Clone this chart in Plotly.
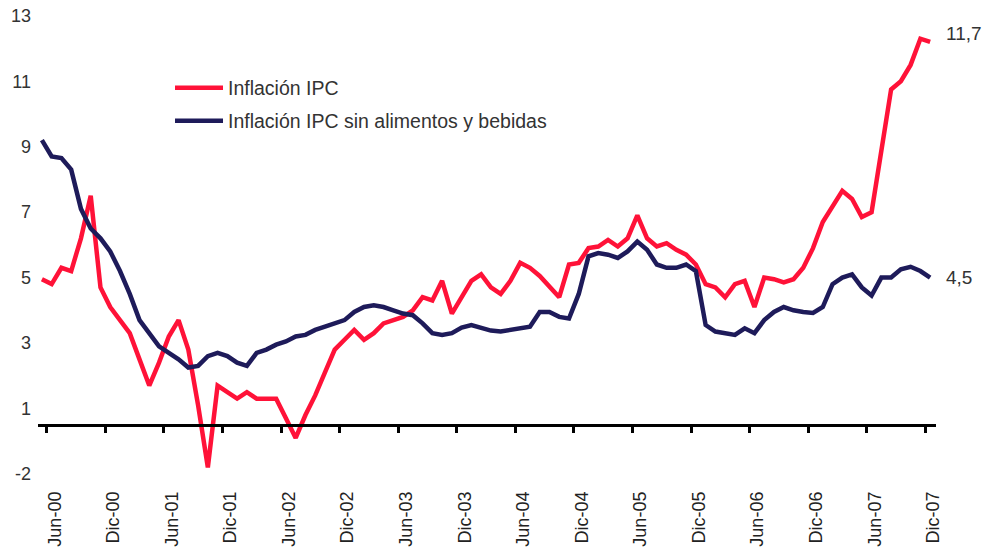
import plotly.graph_objects as go

# Monthly periods, May-00 .. Dic-07
MESES = ["Ene", "Feb", "Mar", "Abr", "May", "Jun", "Jul", "Ago", "Sep", "Oct", "Nov", "Dic"]
periodos = [f"{MESES[m]}-{str(a)[2:]}" for a in range(2000, 2008) for m in range(12)][4:]

# Headline CPI inflation (%)
inflacion_ipc = [
    4.45, 4.3, 4.8, 4.7, 5.7, 7.0, 4.2, 3.6, 3.2, 2.8,
    2.0, 1.2, 1.9, 2.7, 3.2, 2.3, 0.6, -1.3, 1.2, 1.0,
    0.8, 1.0, 0.8, 0.8, 0.8, 0.2, -0.4, 0.3, 0.9, 1.6,
    2.3, 2.6, 2.9, 2.6, 2.8, 3.1, 3.2, 3.3, 3.5, 3.9,
    3.8, 4.4, 3.4, 3.9, 4.4, 4.6, 4.2, 4.0, 4.4, 4.95,
    4.8, 4.55, 4.2, 3.9, 4.9, 4.95, 5.4, 5.45, 5.65, 5.45,
    5.7, 6.4, 5.7, 5.45, 5.55, 5.35, 5.2, 4.9, 4.3, 4.2,
    3.9, 4.3, 4.4, 3.6, 4.5, 4.45, 4.35, 4.45, 4.8, 5.4,
    6.2, 6.7, 7.15, 6.9, 6.35, 6.5, 8.3, 10.25, 10.5, 11.0,
    11.8, 11.7,
]

# CPI inflation excluding food and beverages (%)
inflacion_sin_alimentos = [
    8.7, 8.2, 8.15, 7.8, 6.6, 6.0, 5.7, 5.3, 4.7, 4.0,
    3.2, 2.8, 2.4, 2.2, 2.0, 1.75, 1.8, 2.1, 2.2, 2.1,
    1.9, 1.8, 2.2, 2.3, 2.45, 2.55, 2.7, 2.75, 2.9, 3.0,
    3.1, 3.2, 3.45, 3.6, 3.65, 3.6, 3.5, 3.4, 3.35, 3.1,
    2.8, 2.75, 2.8, 2.97, 3.05, 2.95, 2.88, 2.85, 2.9, 2.95,
    3.0, 3.45, 3.45, 3.3, 3.25, 4.0, 5.15, 5.25, 5.2, 5.1,
    5.3, 5.6, 5.35, 4.9, 4.8, 4.8, 4.9, 4.7, 3.05, 2.85,
    2.8, 2.75, 2.95, 2.8, 3.2, 3.45, 3.6, 3.5, 3.45, 3.42,
    3.6, 4.3, 4.5, 4.6, 4.2, 3.95, 4.5, 4.5, 4.75, 4.83,
    4.7, 4.5,
]

# Value axis ticks and their (rounded) labels
y_tickvals = [-1.5, 0.5, 2.5, 4.5, 6.5, 8.5, 10.5, 12.5]
y_ticktext = ["-2", "1", "3", "5", "7", "9", "11", "13"]

Y_RANGE = [-1.9, 12.8]
X_RANGE = [-0.4, len(periodos) - 0.4]

x = list(range(len(periodos)))
tick_idx = [i for i, p in enumerate(periodos) if p.startswith(("Jun", "Dic"))]
x_tickvals = [i - 0.5 for i in tick_idx]
x_ticktext = [periodos[i] for i in tick_idx]

ROJO = "#FF1238"
AZUL = "#1E1B5A"
FONT = "Liberation Sans, Arial, sans-serif"

fig = go.Figure()
fig.add_trace(go.Scatter(
    x=x, y=inflacion_ipc, mode="lines", name="Inflación IPC",
    line=dict(color=ROJO, width=4.5), legend="legend",
))
fig.add_trace(go.Scatter(
    x=x, y=inflacion_sin_alimentos, mode="lines",
    name="Inflación IPC sin alimentos y bebidas",
    line=dict(color=AZUL, width=4.5), legend="legend2",
))

# Closing values
for serie in (inflacion_ipc, inflacion_sin_alimentos):
    v = serie[-1]
    fig.add_annotation(
        x=x[-1], y=v, text=f"{v:.1f}".replace(".", ","),
        showarrow=False, xanchor="left", xshift=14,
        yshift=8 if v > 8 else 0,
        font=dict(family=FONT, size=19, color="#333333"),
    )

zero_pos = (0 - Y_RANGE[0]) / (Y_RANGE[1] - Y_RANGE[0])

legend_style = dict(
    xanchor="left", yanchor="middle", itemwidth=48,
    bgcolor="rgba(0,0,0,0)", font=dict(family=FONT, size=19.5, color="#333333"),
)

fig.update_layout(
    width=997, height=552, autosize=False,
    margin=dict(l=38, r=61, t=6, b=65),
    paper_bgcolor="white", plot_bgcolor="white",
    font=dict(family=FONT, color="#333333"),
    showlegend=True,
    xaxis=dict(
        range=X_RANGE, showgrid=False, zeroline=False, showline=False,
        tickmode="array", tickvals=x_tickvals, ticktext=x_ticktext,
        tickangle=-90, ticks="", ticklabelshift=8,
        tickfont=dict(family=FONT, size=18, color="#222222"),
    ),
    xaxis2=dict(
        range=X_RANGE, overlaying="x", anchor="free", position=zero_pos,
        side="bottom", showgrid=False, zeroline=False,
        showline=True, linecolor="black", linewidth=3,
        tickmode="array", tickvals=x_tickvals, ticks="outside",
        ticklen=6, tickwidth=3, tickcolor="black", showticklabels=False,
    ),
    yaxis=dict(
        range=Y_RANGE, showgrid=False, zeroline=False, showline=False,
        tickmode="array", tickvals=y_tickvals, ticktext=y_ticktext,
        ticks="", ticklabelstandoff=6,
        tickfont=dict(family=FONT, size=18, color="#333333"),
    ),
    legend=dict(x=0.147, y=0.8295, **legend_style),
    legend2=dict(x=0.147, y=0.761, **legend_style),
)

# Keep the overlaid category axis visible even without its own trace
fig.add_trace(go.Scatter(x=[X_RANGE[0]], y=[0], xaxis="x2", mode="none",
                         showlegend=False, hoverinfo="skip"))

fig.write_html("out.html")
